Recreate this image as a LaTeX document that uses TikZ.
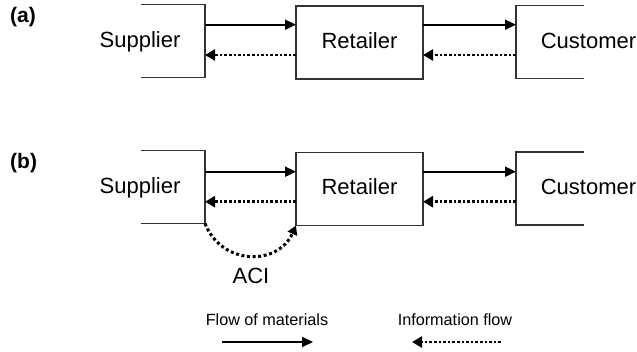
\documentclass[tikz,border=0pt]{standalone}
\usepackage{fontspec}
\setmainfont{Liberation Sans}
\usetikzlibrary{arrows.meta,calc}
\begin{document}
\begin{tikzpicture}[x=1pt,y=-1pt,
  boxline/.style={draw=black!80, line width=1.4pt},
  hidbox/.style={inner sep=0pt, outer sep=0pt},
  retbox/.style={hidbox, boxline, minimum width=127pt, minimum height=73pt},
  sidebox/.style={hidbox, minimum height=73pt},
  mat/.style={line width=1.8pt, -{Triangle[length=11pt,width=10pt]}},
  info/.style={line width=2.6pt, dash pattern=on 2.6pt off 2pt, -{Triangle[length=10pt,width=11pt]}},
  aci/.style={line width=3pt, dash pattern=on 3pt off 2.6pt, -{Triangle[length=9pt,width=10pt]}},
  bigtxt/.style={inner sep=0pt, anchor=base, font=\fontsize{22}{26}\selectfont},
  lbl/.style={inner sep=0pt, anchor=base west, font=\fontsize{21}{25}\selectfont\bfseries},
  legtxt/.style={inner sep=0pt, anchor=base, font=\fontsize{16.2}{19}\selectfont}
]
\useasboundingbox (0,0) rectangle (637,351);

% ---------- panel (a)
\node[lbl] (la) at (10,22) {(a)};
\node[sidebox, minimum width=64pt] (supA) at (173,41) {};
\draw[boxline] (supA.north west) -- (supA.north east) -- (supA.south east) -- (supA.south west);
\node[retbox] (retA) at (359.5,42.5) {};
\node[sidebox, minimum width=68pt] (custA) at (550,42) {};
\draw[boxline] (custA.north east) -- (custA.north west) -- (custA.south west) -- (custA.south east);
\node[bigtxt] (tsupA) at (140,47.5) {Supplier};
\node[bigtxt] (tretA) at (359.5,48) {Retailer};
\node[bigtxt] (tcustA) at (588.5,48) {Customer};

\coordinate (a1) at ([yshift=16.3pt]supA.east);
\coordinate (a2) at ([yshift=-14pt]supA.east);
\draw[mat] (a1) -- (a1 -| retA.west);
\draw[info] (a2 -| retA.west) -- (a2);
\draw[mat] (a1 -| retA.east) -- (a1 -| custA.west);
\draw[info] (a2 -| custA.west) -- (a2 -| retA.east);

% ---------- panel (b)
\node[lbl] (lb) at (10,168) {(b)};
\node[sidebox, minimum width=64pt] (supB) at (173,187) {};
\draw[boxline] (supB.north west) -- (supB.north east) -- (supB.south east) -- (supB.south west);
\node[retbox] (retB) at (359.5,189) {};
\node[sidebox, minimum width=68pt] (custB) at (550,188.5) {};
\draw[boxline] (custB.north east) -- (custB.north west) -- (custB.south west) -- (custB.south east);
\node[bigtxt] (tsupB) at (140,193.5) {Supplier};
\node[bigtxt] (tretB) at (359.5,194.5) {Retailer};
\node[bigtxt] (tcustB) at (588.5,194.5) {Customer};

\coordinate (b1) at ([yshift=15.3pt]supB.east);
\coordinate (b2) at ([yshift=-14.7pt]supB.east);
\draw[mat] (b1) -- (b1 -| retB.west);
\draw[info] (b2 -| retB.west) -- (b2);
\draw[mat] (b1 -| retB.east) -- (b1 -| custB.west);
\draw[info] (b2 -| custB.west) -- (b2 -| retB.east);

\draw[aci] (supB.south east) .. controls (222,266) and (278,266) .. (retB.south west);
\node[bigtxt] (taci) at (251,283) {ACI};

% ---------- legend
\node[legtxt] (lmat) at (267,325) {Flow of materials};
\node[legtxt] (linfo) at (455,325) {Information flow};
\coordinate (m1) at (222,342);
\coordinate (m2) at (313,342);
\coordinate (i1) at (501,342);
\coordinate (i2) at (412,342);
\draw[mat] (m1) -- (m2);
\draw[info] (i1) -- (i2);
\end{tikzpicture}
\end{document}
